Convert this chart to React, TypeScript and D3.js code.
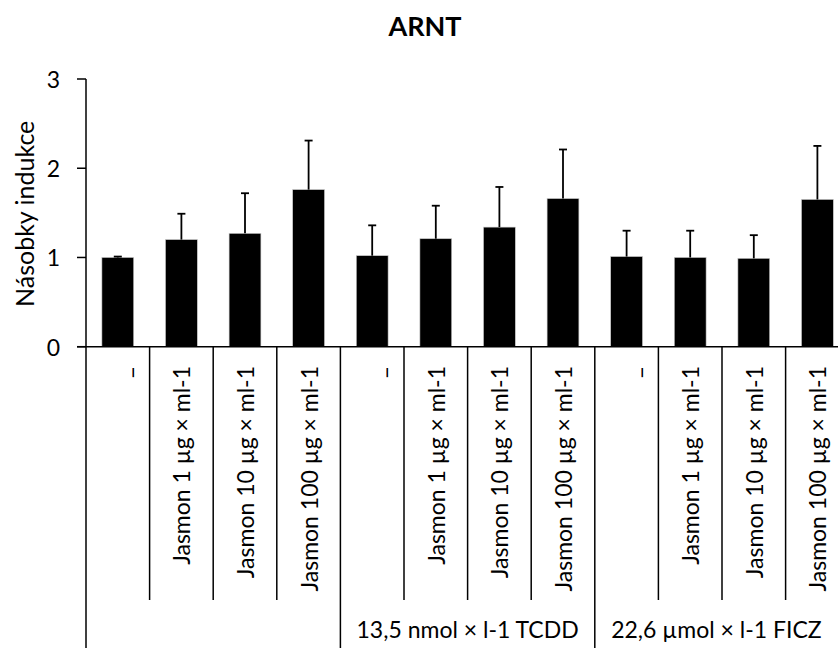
import * as d3 from "d3"

const subLabels = [
  "–", "Jasmon 1 µg × ml-1", "Jasmon 10 µg × ml-1", "Jasmon 100 µg × ml-1",
  "–", "Jasmon 1 µg × ml-1", "Jasmon 10 µg × ml-1", "Jasmon 100 µg × ml-1",
  "–", "Jasmon 1 µg × ml-1", "Jasmon 10 µg × ml-1", "Jasmon 100 µg × ml-1",
]
const groupLabels = ["", "13,5 nmol × l-1 TCDD", "22,6 µmol × l-1 FICZ"]
const values = [1.0, 1.2, 1.27, 1.76, 1.02, 1.21, 1.34, 1.66, 1.01, 1.0, 0.99, 1.65]
const errors = [0.01, 0.29, 0.45, 0.55, 0.34, 0.37, 0.45, 0.55, 0.29, 0.3, 0.26, 0.6]
const yTicks = [0, 1, 2, 3]

const W = 838
const H = 648
const FONT = "Lato, 'Open Sans', sans-serif"

export default function App() {
  const left = 86
  const top = 79
  const base = 346.7
  const keys = values.map((_, i) => i)

  const x = d3.scaleBand<number>().domain(keys).range([left, 849.2]).padding(0)
  const y = d3.scaleLinear().domain([0, 3]).range([base, top])
  const step = x.bandwidth()
  const barW = step * 0.5
  const perGroup = 4

  const subBottom = 600
  const labelTop = 366

  return (
    <svg width={W} height={H} style={{ position: "absolute", left: 0, top: 0, background: "#fff" }} fontFamily={FONT}>
      <text x={425} y={36} textAnchor="middle" fontSize={27} fontWeight="bold">ARNT</text>

      {/* y axis title */}
      <text transform={`translate(24, ${(top + base) / 2 + 1}) rotate(-90)`} textAnchor="middle"
        dominantBaseline="central" fontSize={25}>Násobky indukce</text>

      {/* y axis */}
      <line x1={left} x2={left} y1={top} y2={H} stroke="#000" strokeWidth={1.5} />
      {yTicks.map((t) => (
        <g key={t}>
          <line x1={left - 9} x2={left} y1={y(t)} y2={y(t)} stroke="#000" strokeWidth={1.5} />
          <text x={60} y={y(t)} textAnchor="end" dominantBaseline="central" fontSize={23}>{t}</text>
        </g>
      ))}

      {/* bars + error bars */}
      {keys.map((k) => {
        const cx = (x(k) as number) + step / 2
        const ye = y(values[k] + errors[k])
        return (
          <g key={k}>
            <rect x={cx - barW / 2} y={y(values[k])} width={barW} height={base - y(values[k])}
              fill="#000" stroke="#c8c8c8" strokeWidth={0.6} />
            <line x1={cx} x2={cx} y1={y(values[k])} y2={ye} stroke="#000" strokeWidth={1.8} />
            <line x1={cx - 4} x2={cx + 4} y1={ye} y2={ye} stroke="#000" strokeWidth={1.8} />
          </g>
        )
      })}

      {/* baseline */}
      <line x1={left - 9} x2={W} y1={base} y2={base} stroke="#000" strokeWidth={1.5} />

      {/* category separators */}
      {keys.slice(1).map((k) => {
        const xs = x(k) as number
        const isGroup = k % perGroup === 0
        return (
          <line key={k} x1={xs} x2={xs} y1={base} y2={isGroup ? H : subBottom} stroke="#000" strokeWidth={1.5} />
        )
      })}

      {/* sub labels */}
      {keys.map((k) => {
        const cx = (x(k) as number) + step / 2 + (subLabels[k] === "–" ? 13 : 0)
        return (
          <text key={k} transform={`translate(${cx}, ${labelTop}) rotate(-90)`} textAnchor="end"
            dominantBaseline="central" fontSize={23}>{subLabels[k]}</text>
        )
      })}

      {/* group labels */}
      {groupLabels.map((g, gi) => {
        const x0 = x(gi * perGroup) as number
        const x1 = Math.min(W, (x(gi * perGroup + perGroup - 1) as number) + step)
        return (
          <text key={gi} x={(x0 + x1) / 2} y={638} textAnchor="middle" fontSize={23}>{g}</text>
        )
      })}
    </svg>
  )
}
